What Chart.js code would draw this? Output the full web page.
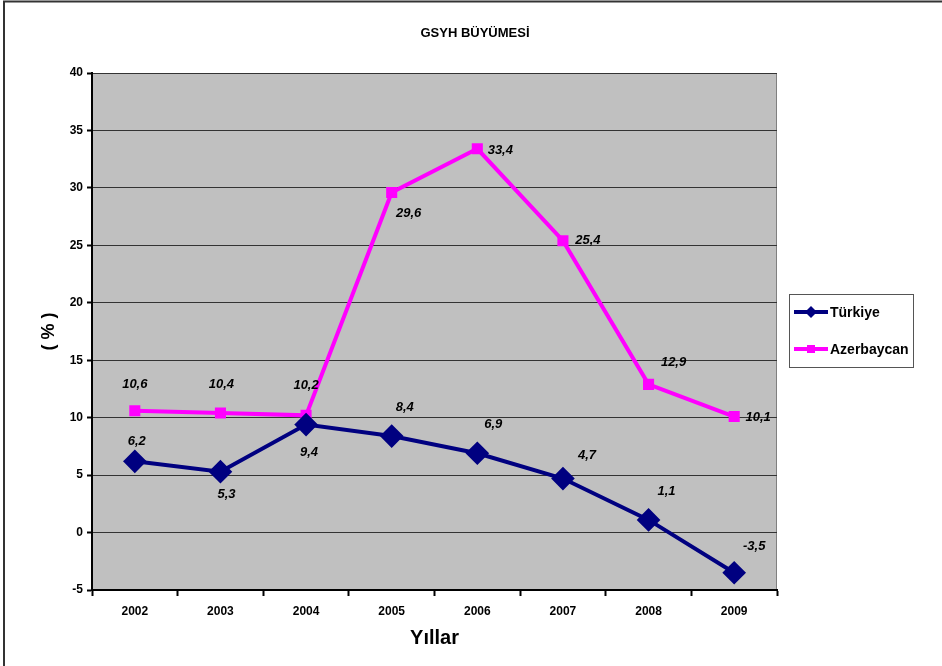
<!DOCTYPE html>
<html>
<head>
<meta charset="utf-8">
<script src="https://cdn.jsdelivr.net/npm/chart.js@4.4.1/dist/chart.umd.min.js"></script>
<style>
  html, body { margin: 0; padding: 0; background: #fff; }
  #wrap { width: 942px; height: 666px; position: relative; }
</style>
</head>
<body>
<div id="wrap"><canvas id="grafico" width="942" height="666"></canvas></div>
<script>
// datos
var yillar = ['2002', '2003', '2004', '2005', '2006', '2007', '2008', '2009'];
var turkiye = [6.2, 5.3, 9.4, 8.4, 6.9, 4.7, 1.1, -3.5];
var azerbaycan = [10.6, 10.4, 10.2, 29.6, 33.4, 25.4, 12.9, 10.1];

// desplazamiento de las etiquetas (px) respecto al punto
var offTurkiye = [[2, -20], [6, 23], [3, 28], [13, -29], [16, -29], [24, -23], [18, -28], [20, -26]];
var offAzer = [[0, -26], [1, -29], [0, -30], [17, 21], [23, 2], [25, 0], [25, -22], [24, 1]];

var FONT = '"Liberation Sans", Arial, sans-serif';
Chart.defaults.font.family = FONT;
Chart.defaults.color = '#000';

var fondoPlot = {
    id: 'fondoPlot',
    beforeDraw: function (chart) {
        var ctx = chart.ctx, a = chart.chartArea;
        ctx.save();
        // marco exterior
        ctx.strokeStyle = '#333';
        ctx.lineWidth = 2;
        ctx.beginPath();
        ctx.moveTo(4, 700);
        ctx.lineTo(4, 1.5);
        ctx.lineTo(1000, 1.5);
        ctx.stroke();
        // titulo
        ctx.fillStyle = '#000';
        ctx.font = 'bold 13px ' + FONT;
        ctx.textAlign = 'center';
        ctx.textBaseline = 'middle';
        ctx.fillText('GSYH BÜYÜMESİ', 475, 33);
        ctx.fillStyle = '#C0C0C0';
        ctx.fillRect(a.left, a.top, a.right - a.left, a.bottom - a.top);
        ctx.strokeStyle = '#808080';
        ctx.lineWidth = 1;
        ctx.strokeRect(a.left + 0.5, a.top + 0.5, a.right - a.left - 1, a.bottom - a.top);
        ctx.restore();
    }
};

var etiquetas = {
    id: 'etiquetas',
    afterDatasetsDraw: function (chart) {
        var ctx = chart.ctx;
        var offs = [offTurkiye, offAzer];
        ctx.save();
        ctx.font = 'italic bold 13px ' + FONT;
        ctx.fillStyle = '#000';
        ctx.textAlign = 'center';
        ctx.textBaseline = 'middle';
        chart.data.datasets.forEach(function (ds, i) {
            var meta = chart.getDatasetMeta(i);
            meta.data.forEach(function (pt, j) {
                var txt = String(ds.data[j]).replace('.', ',');
                ctx.fillText(txt, pt.x + offs[i][j][0], pt.y + offs[i][j][1]);
            });
        });
        ctx.restore();
    }
};

var leyenda = {
    id: 'leyenda',
    afterDraw: function (chart) {
        var ctx = chart.ctx;
        var x = 789, y = 294, w = 124, h = 73;
        ctx.save();
        ctx.fillStyle = '#fff';
        ctx.fillRect(x, y, w, h);
        ctx.strokeStyle = '#555';
        ctx.lineWidth = 1;
        ctx.strokeRect(x + 0.5, y + 0.5, w, h);
        var items = [
            { t: 'Türkiye', c: '#000080', s: 'rombo', yy: y + 18 },
            { t: 'Azerbaycan', c: '#FF00FF', s: 'cuadro', yy: y + 55 }
        ];
        items.forEach(function (it) {
            ctx.strokeStyle = it.c;
            ctx.lineWidth = 4;
            ctx.beginPath();
            ctx.moveTo(x + 5, it.yy);
            ctx.lineTo(x + 39, it.yy);
            ctx.stroke();
            ctx.fillStyle = it.c;
            var cx = x + 22;
            if (it.s === 'rombo') {
                ctx.beginPath();
                ctx.moveTo(cx, it.yy - 6);
                ctx.lineTo(cx + 6, it.yy);
                ctx.lineTo(cx, it.yy + 6);
                ctx.lineTo(cx - 6, it.yy);
                ctx.closePath();
                ctx.fill();
            } else {
                ctx.fillRect(cx - 4, it.yy - 4, 8, 8);
            }
            ctx.fillStyle = '#000';
            ctx.font = 'bold 14px ' + FONT;
            ctx.textBaseline = 'middle';
            ctx.fillText(it.t, x + 41, it.yy + 1);
        });
        ctx.restore();
    }
};

var ctx = document.getElementById('grafico');
new Chart(ctx, {
    type: 'line',
    data: {
        labels: yillar,
        datasets: [{
            label: 'Türkiye',
            data: turkiye,
            borderColor: '#000080',
            backgroundColor: '#000080',
            borderWidth: 4,
            pointStyle: 'rectRot',
            pointRadius: 9,
            pointHoverRadius: 9,
            tension: 0
        }, {
            label: 'Azerbaycan',
            data: azerbaycan,
            borderColor: '#FF00FF',
            backgroundColor: '#FF00FF',
            borderWidth: 4,
            pointStyle: 'rect',
            pointRadius: 5,
            pointHoverRadius: 5,
            tension: 0
        }]
    },
    options: {
        responsive: false,
        animation: false,
        layout: { padding: { left: 38, right: 165, top: 73, bottom: 16 } },
        plugins: {
            legend: { display: false },
            tooltip: { enabled: false },
            title: { display: false }
        },
        scales: {
            x: {
                offset: true,
                grid: {
                    offset: true,
                    drawOnChartArea: false,
                    tickLength: 6,
                    tickColor: '#000',
                    tickWidth: 2
                },
                border: { color: '#000', width: 2 },
                ticks: { font: { size: 12, weight: 'bold' }, color: '#000', padding: 8 },
                title: {
                    display: true,
                    text: 'Yıllar',
                    font: { size: 20, weight: 'bold' },
                    color: '#000',
                    padding: { top: 0, bottom: 0 }
                },
                afterFit: function (s) { s.height = 60; }
            },
            y: {
                min: -5,
                max: 40,
                ticks: { stepSize: 5, font: { size: 12, weight: 'bold' }, color: '#000', padding: 4 },
                grid: {
                    color: '#333',
                    lineWidth: 1,
                    tickLength: 5,
                    tickColor: '#000',
                    tickWidth: 2
                },
                border: { color: '#000', width: 2 },
                title: {
                    display: true,
                    text: '( % )',
                    font: { size: 18, weight: 'bold' },
                    color: '#000',
                    padding: { top: 0, bottom: 0 }
                },
                afterFit: function (s) { s.width = 54; }
            }
        }
    },
    plugins: [fondoPlot, etiquetas, leyenda]
});
</script>
</body>
</html>
